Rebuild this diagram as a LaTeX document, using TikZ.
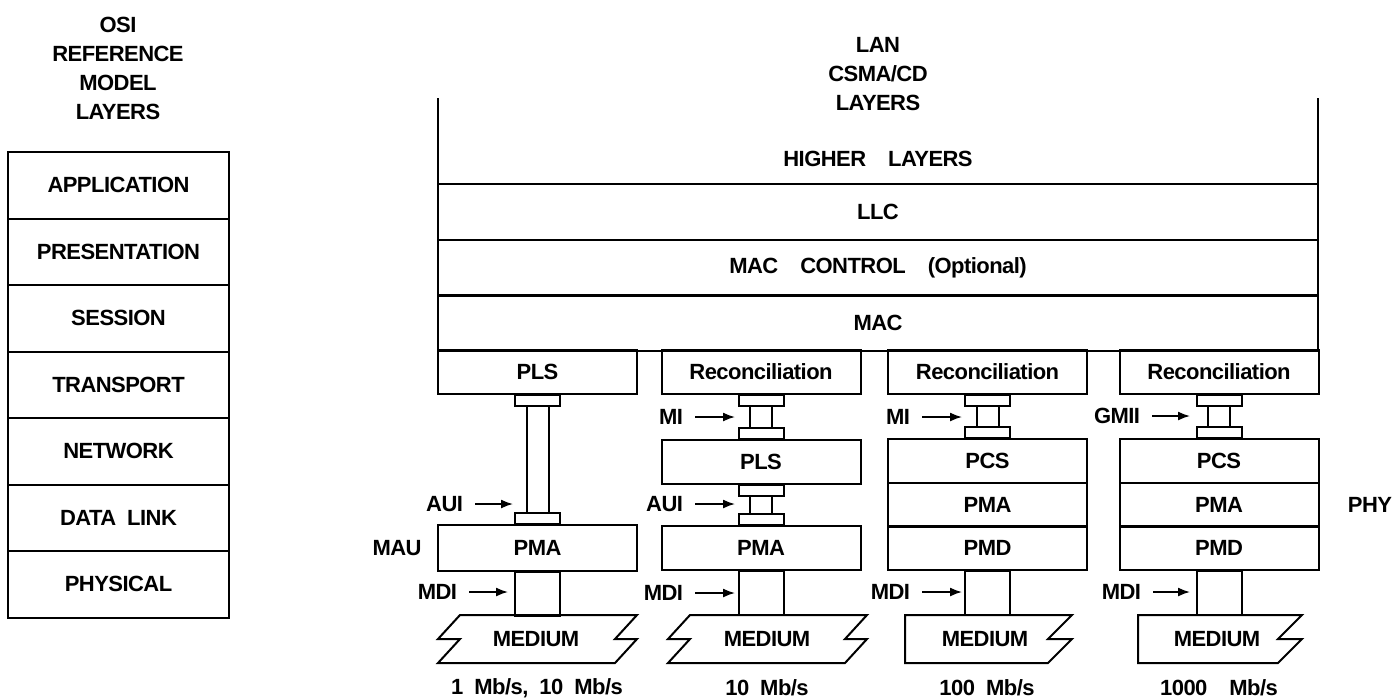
\documentclass[tikz,border=0pt]{standalone}
\usepackage{fontspec}
\setmainfont{Liberation Sans}[LetterSpace=-2.5]
\usetikzlibrary{calc,arrows.meta}

\tikzset{
  every node/.style={font=\fontsize{11}{14.5}\selectfont\bfseries},
  osirow/.style={draw, minimum width=110.5pt, minimum height=33.25pt, inner sep=0pt},
  lanrow/.style={draw, minimum width=440pt, minimum height=28pt, inner sep=0pt},
  layer/.style={draw, minimum width=99.5pt, minimum height=22pt, inner sep=0pt},
  lbl/.style={inner sep=0pt, outer xsep=6pt},
  arr/.style={-{Latex[length=6pt,width=4.5pt]}, line width=0.8pt},
}

% tab under #1, tab over #2 and the post between them
\newcommand{\jack}[2]{%
  \draw (#1.south) ++(-22.5,0) rectangle ++(45,11);
  \draw (#2.north) ++(-22.5,0) rectangle ++(45,-11);
  \draw ($(#1.south)+(-11,11)$) rectangle ($(#2.north)+(11,-11)$);
}

\begin{document}
\begin{tikzpicture}[x=0.5pt, y=-0.5pt, line width=1pt]
\useasboundingbox (0,0) rectangle (1397,698);

% OSI side
\node[align=center] (osititle) at (118,68) {OSI\\REFERENCE\\MODEL\\LAYERS};
\foreach \name [count=\i] in {APPLICATION,PRESENTATION,SESSION,TRANSPORT,NETWORK,DATA\enspace LINK,PHYSICAL}
  \node[osirow] (osi\i) at (118.5,{118.75+66.5*\i}) {\name};

% LAN side
\node[align=center] (lantitle) at (878,74) {LAN\\CSMA/CD\\LAYERS};
\draw (438,98) -- (438,184);
\draw (1318,98) -- (1318,184);
\node (higher) at (878,159) {HIGHER\quad LAYERS};
\node[lanrow] (llc) at (878,212) {LLC};
\node[lanrow] (macctl) at (878,268) {MAC\quad CONTROL\quad (Optional)};
\node[lanrow] (mac) at (878,323) {MAC};

\node[layer] (pls1) at (537.5,372) {PLS};
\node[layer] (rec2) at (761,372) {Reconciliation};
\node[layer] (rec3) at (987.5,372) {Reconciliation};
\node[layer] (rec4) at (1219,372) {Reconciliation};

\node[layer, minimum height=23pt] (pma1) at (537.5,548) {PMA};
\node[layer] (pls2) at (761,461.5) {PLS};
\node[layer] (pma2) at (761,547.5) {PMA};
\node[layer] (pcs3) at (987.5,461) {PCS};
\node[layer] (pma3) at (987.5,505) {PMA};
\node[layer] (pmd3) at (987.5,548) {PMD};
\node[layer] (pcs4) at (1219,461) {PCS};
\node[layer] (pma4) at (1219,505) {PMA};
\node[layer] (pmd4) at (1219,548) {PMD};

\jack{pls1}{pma1}
\jack{rec2}{pls2}
\jack{pls2}{pma2}
\jack{rec3}{pcs3}
\jack{rec4}{pcs4}

% MDI posts
\foreach \b in {pma1,pma2,pmd3,pmd4}
  \draw ($(\b.south)+(-22.5,0)$) rectangle ($(\b.south)+(22.5,44)$);

% media
\draw (460,615) -- ++(177,0) -- ++(-22,24) -- ++(22,0) -- ++(-22,24)
  -- ++(-177,0) -- ++(22,-24) -- ++(-22,0) -- cycle;
\draw (690,615) -- ++(177,0) -- ++(-22,24) -- ++(22,0) -- ++(-22,24)
  -- ++(-177,0) -- ++(22,-24) -- ++(-22,0) -- cycle;
\draw (905,615) -- (1072,615) -- (1048,639) -- (1072,639) -- (1048,663) -- (905,663) -- cycle;
\draw (1138,615) -- (1302,615) -- (1278,639) -- (1302,639) -- (1278,663) -- (1138,663) -- cycle;
\node (med1) at (536,639) {MEDIUM};
\node (med2) at (767,639) {MEDIUM};
\node (med3) at (985,639) {MEDIUM};
\node (med4) at (1217,639) {MEDIUM};

% interfaces
\foreach \n/\t/\x/\tx/\y in {aui1/AUI/475/513/504, mdi1/MDI/469/508/592,
    mi2/MI/695/735/417, aui2/AUI/695/735/504, mdi2/MDI/695/735/593,
    mi3/MI/922/962/417, mdi3/MDI/922/962/592,
    gmii4/GMII/1152/1190/416, mdi4/MDI/1153/1190/592} {
  \node[lbl, anchor=east] (\n) at (\x,\y) {\t};
  \coordinate (\n tip) at (\tx,\y);
  \draw[arr] (\n.east) -- (\n tip);
}
\node (mau) at (397,548) {MAU};
\node (phy) at (1370,505) {PHY};

% speeds
\node (spd1) at (537,688) {1\enspace Mb/s,\enspace 10\enspace Mb/s};
\node (spd2) at (767,688) {10\enspace Mb/s};
\node (spd3) at (987,688) {100\enspace Mb/s};
\node (spd4) at (1219,688) {1000\quad Mb/s};
\end{tikzpicture}
\end{document}
